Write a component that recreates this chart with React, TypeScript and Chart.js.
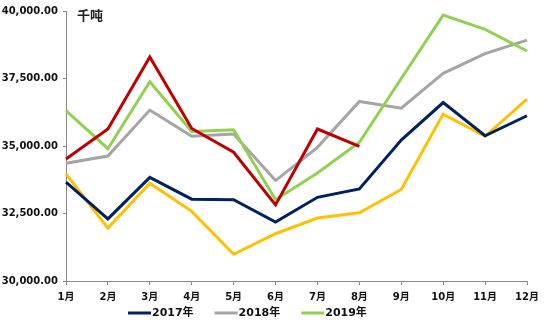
import React, { useEffect, useRef } from "react";
import { Chart, registerables } from "chart.js";

Chart.register(...registerables);

const months = ["1月", "2月", "3月", "4月", "5月", "6月", "7月", "8月", "9月", "10月", "11月", "12月"];
const s2017 = [33660, 32300, 33840, 33030, 33010, 32180, 33100, 33410, 35220, 36610, 35380, 36120];
const s2018 = [34360, 34630, 36330, 35360, 35440, 33720, 34950, 36650, 36400, 37690, 38420, 38920];
const s2019 = [36310, 34900, 37380, 35540, 35600, 33010, 34000, 35140, 37500, 39850, 39320, 38520];
const sYellow = [33970, 31960, 33620, 32580, 30990, 31750, 32330, 32530, 33390, 36180, 35360, 36740];
const sRed = [34520, 35630, 38300, 35650, 34770, 32820, 35630, 34990];
const legendNames = ["2017年", "2018年", "2019年"];
const unitLabel = "千吨";
const yMin = 30000;
const yMax = 40000;
const yStep = 2500;

const tickFont = { family: '"DejaVu Sans", "Noto Sans CJK SC", sans-serif', size: 10, weight: "bold" as const };

export default function App() {
  const ref = useRef<HTMLCanvasElement>(null);
  useEffect(() => {
    if (!ref.current) return;
    const unitPlugin = {
      id: "unitLabel",
      afterDraw(chart: any) {
        const ctx = chart.ctx;
        ctx.save();
        ctx.font = 'bold 13px "Noto Sans CJK SC", sans-serif';
        ctx.fillStyle = "#222";
        ctx.textBaseline = "middle";
        ctx.textAlign = "left";
        ctx.fillText(unitLabel, chart.chartArea.left + 11, chart.chartArea.top + 4);
        ctx.restore();
      },
    };
    const legendPlugin = {
      id: "manualLegend",
      afterDraw(chart: any) {
        const ctx = chart.ctx;
        ctx.save();
        ctx.font = 'bold 11px "DejaVu Sans", "Noto Sans CJK SC", sans-serif';
        ctx.textBaseline = "middle";
        ctx.textAlign = "left";
        let x = 128;
        const y = 313;
        const ds = chart.data.datasets;
        for (let i = 0; i < ds.length; i++) {
          if (!legendNames.includes(ds[i].label)) continue;
          ctx.fillStyle = ds[i].borderColor;
          ctx.fillRect(x, y - 1.5, 23, 3);
          x += 24;
          ctx.fillStyle = "#111";
          ctx.fillText(ds[i].label, x, y);
          x += ctx.measureText(ds[i].label).width + 21;
        }
        ctx.restore();
      },
    };
    const chart = new Chart(ref.current, {
      type: "line",
      data: {
        labels: months,
        datasets: [
          { label: "2017年", data: s2017, borderColor: "#002060", backgroundColor: "#002060", order: 1 },
          { label: "2018年", data: s2018, borderColor: "#A5A5A5", backgroundColor: "#A5A5A5", order: 3 },
          { label: "2019年", data: s2019, borderColor: "#92D050", backgroundColor: "#92D050", order: 2 },
          { label: "2016年", data: sYellow, borderColor: "#FFC000", backgroundColor: "#FFC000", order: 4 },
          { label: "2020年", data: sRed, borderColor: "#C00000", backgroundColor: "#C00000", order: 0 },
        ],
      },
      options: {
        animation: false,
        responsive: false,
        layout: { padding: { left: 0, right: 19, top: 3, bottom: 15 } },
        elements: {
          line: { borderWidth: 3, tension: 0 },
          point: { radius: 0 },
        },
        plugins: {
          tooltip: { enabled: false },
          legend: { display: false },
        },
        scales: {
          x: {
            offset: false,
            grid: { display: true, drawOnChartArea: false, drawTicks: true, tickLength: 4, color: "#888" },
            border: { display: true, color: "#888", width: 1 },
            ticks: { color: "#111", font: tickFont, padding: 6, maxRotation: 0, autoSkip: false },
          },
          y: {
            min: yMin,
            max: yMax,
            afterFit: (s: any) => {
              s.width = 66;
            },
            grid: { display: true, drawOnChartArea: false, drawTicks: true, tickLength: 3, color: "#888" },
            border: { display: true, color: "#888", width: 1 },
            ticks: {
              stepSize: yStep,
              color: "#111",
              font: tickFont,
              padding: 5,
              callback: (v: any) =>
                Number(v).toLocaleString("en-US", { minimumFractionDigits: 2, maximumFractionDigits: 2 }),
            },
          },
        },
      },
      plugins: [unitPlugin, legendPlugin],
    });
    return () => chart.destroy();
  }, []);
  return (
    <div style={{ position: "absolute", left: 0, top: 0, width: 546, height: 324, background: "#fff" }}>
      <canvas ref={ref} width={546} height={324} style={{ display: "block" }} />
    </div>
  );
}
